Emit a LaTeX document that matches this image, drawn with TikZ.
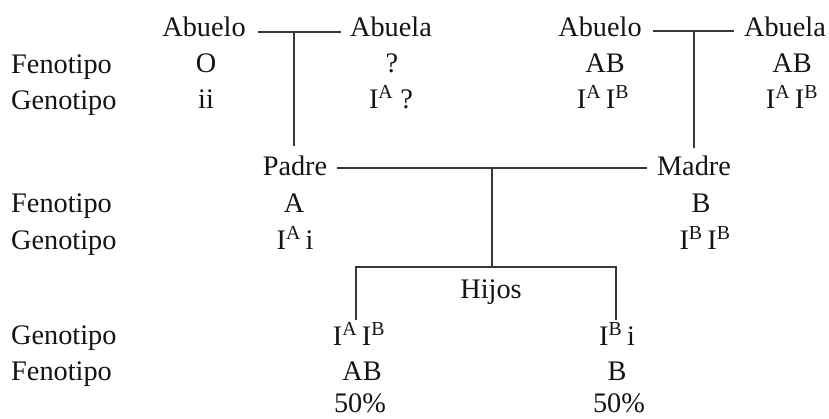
\documentclass[tikz,border=0pt]{standalone}
\usepackage{fontspec}
\setmainfont{Liberation Serif}
\newcommand{\gA}{I\textsuperscript{A}}
\newcommand{\gB}{I\textsuperscript{B}}
\begin{document}
\begin{tikzpicture}[x=1pt,y=-1pt,
  txt/.style={inner sep=0pt,anchor=base,font=\fontsize{28.3}{34}\selectfont,text=black!92},
  rowlbl/.style={txt,anchor=base west},
  link/.style={line width=1.4pt,draw=black!78}]
\useasboundingbox (0,0) rectangle (829,418);

% row labels
\node[rowlbl] (f1) at (11,73) {Fenotipo};
\node[rowlbl] (g1) at (11,109) {Genotipo};
\node[rowlbl] (f2) at (11,212) {Fenotipo};
\node[rowlbl] (g2) at (11,249) {Genotipo};
\node[rowlbl] (g3) at (11,344) {Genotipo};
\node[rowlbl] (f3) at (11,380) {Fenotipo};

% paternal grandparents
\node[txt] (abo1) at (204,36) {Abuelo};
\node[txt] (aba1) at (391,36) {Abuela};
\node[txt] at (206,72) {O};
\node[txt] at (392,72) {?};
\node[txt] at (206,108) {ii};
\node[txt] at (391,108) {\gA\ ?};

% maternal grandparents
\node[txt] (abo2) at (600,36) {Abuelo};
\node[txt] (aba2) at (785,36) {Abuela};
\node[txt] at (605,72) {AB};
\node[txt] at (792,72) {AB};
\node[txt] at (603,108) {\gA\,\gB};
\node[txt] at (792,108) {\gA\,\gB};

% parents
\node[txt] (padre) at (295,175) {Padre};
\node[txt] (madre) at (694,175) {Madre};
\node[txt] at (294,212) {A};
\node[txt] at (701,212) {B};
\node[txt] at (295,249) {\gA\,i};
\node[txt] at (705,249) {\gB\,\gB};

% children
\node[txt] (hijos) at (491,298) {Hijos};
\node[txt] (c1) at (359,345) {\gA\,\gB};
\node[txt] (c2) at (617,345) {\gB\,i};
\node[txt] at (362,380) {AB};
\node[txt] at (617,380) {B};
\node[txt] at (360,412) {50\%};
\node[txt] at (619,412) {50\%};

% junction points of the pedigree lines
\coordinate (m1) at (294,32);
\coordinate (m2) at (694,31);
\coordinate (m3) at (492,168);
\coordinate (k1) at (356,267);
\coordinate (k2) at (616,267);

% marriage lines and descent lines
\draw[link] ([xshift=12pt]abo1.east |- m1) -- ([xshift=-9pt]aba1.west |- m1);
\draw[link] (m1) -- (m1 |- 0,146);
\draw[link] ([xshift=11pt]abo2.east |- m2) -- ([xshift=-10pt]aba2.west |- m2);
\draw[link] (m2) -- (m2 |- 0,148);
\draw[link] ([xshift=10pt]padre.east |- m3) -- ([xshift=-10pt]madre.west |- m3);
\draw[link] (m3) -- (m3 |- k1);
\draw[link] (k1 |- 0,320) -- (k1) -- (k2) -- (k2 |- 0,320);
\end{tikzpicture}
\end{document}
